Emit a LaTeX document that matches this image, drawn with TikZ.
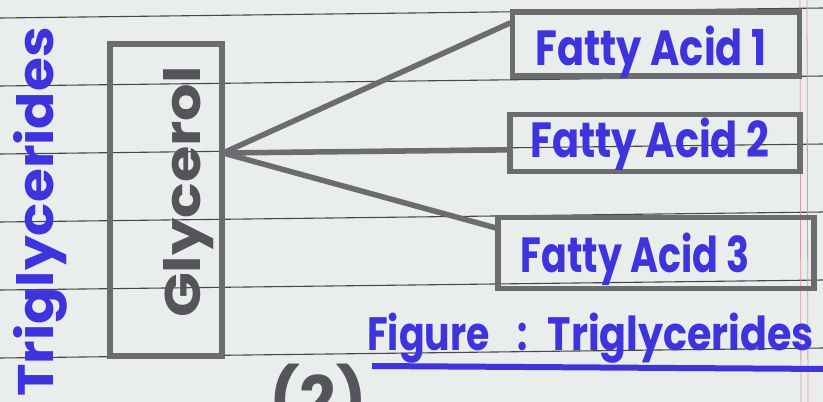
\documentclass[tikz,border=0pt]{standalone}
\usepackage{fontspec}
\setmainfont{Poppins}
\usetikzlibrary{calc}
\definecolor{paper}{RGB}{233,237,235}
\definecolor{rulec}{RGB}{70,72,72}
\definecolor{marginc}{RGB}{228,150,160}
\definecolor{ink}{RGB}{62,52,222}
\definecolor{marker}{RGB}{108,107,112}
\definecolor{markerdark}{RGB}{85,84,90}
\begin{document}
\begin{tikzpicture}[x=1pt,y=-1pt,
  rulel/.style={draw=rulec, line width=1.1pt},
  fabox/.style={draw=marker, line width=5.5pt, inner sep=0pt},
  inktext/.style={text=ink, inner sep=0pt},
  link/.style={draw=marker, line width=5.5pt, line cap=round},
]
\fill[paper] (0,0) rectangle (823,402);
\useasboundingbox (0,0) rectangle (823,402);
\foreach \i in {0,...,5} \draw[rulel] (0,{18+68*\i}) -- (823,{8+68*\i});
\draw[marginc, line width=0.8pt] (800,0) -- (801,402);
\draw[marginc, line width=0.8pt] (807,0) -- (808,402);

% Triglycerides (vertical title)
\node[inktext, font=\fontsize{50}{50}\selectfont\bfseries, rotate=90, anchor=base] (tri) at (53,212) {\scalebox{1.1}[1]{Triglycerides}};

% Glycerol box
\node[fabox, minimum width=112pt, minimum height=312pt] (glybox) at (166,200) {};
\node[text=markerdark, inner sep=0pt, font=\fontsize{50}{50}\selectfont\bfseries, rotate=90, anchor=base] (gly) at (200,192) {\scalebox{1.18}[1]{Glycerol}};
\coordinate (j) at (223,153);

% Fatty acid boxes
\node[fabox, minimum width=287pt, minimum height=64pt] (fa1) at (656,44) {};
\node[fabox, minimum width=290pt, minimum height=57pt] (fa2) at (655,143) {};
\node[fabox, minimum width=316pt, minimum height=71pt] (fa3) at (656,253) {};
\node[inktext, font=\fontsize{38}{38}\selectfont\bfseries, anchor=base] (fa1t) at (651,65) {\scalebox{1.05}[1.3]{Fatty Acid 1}};
\node[inktext, font=\fontsize{38}{38}\selectfont\bfseries, anchor=base] (fa2t) at (650,157) {\scalebox{1.05}[1.3]{Fatty Acid 2}};
\node[inktext, font=\fontsize{38}{38}\selectfont\bfseries, anchor=base] (fa3t) at (635,272) {\scalebox{1.0}[1.3]{Fatty Acid 3}};

% connectors
\draw[link] (j) -- ($(fa1.north west)!0.2!(fa1.south west)$);
\draw[link] (j) -- ($(fa2.north west)!0.61!(fa2.south west)$);
\draw[link] (j) -- ($(fa3.north west)!0.17!(fa3.south west)$);

% caption
\node[inktext, font=\fontsize{36}{36}\selectfont\bfseries, anchor=base west] (cap) at (367,350) {\scalebox{1.05}[1.3]{Figure}\hspace{28pt}\scalebox{1}[1.3]{:}\hspace{20pt}\scalebox{1.1}[1.3]{Triglycerides}};
\coordinate (ula) at (372,366);
\coordinate (ulb) at (830,369);
\draw[ink, line width=6pt] (ula) -- (ulb);

% (2)
\node[text=markerdark, inner sep=0pt, font=\fontsize{64}{64}\selectfont\bfseries, anchor=north] (two) at (318,364) {(2)};
\end{tikzpicture}
\end{document}
